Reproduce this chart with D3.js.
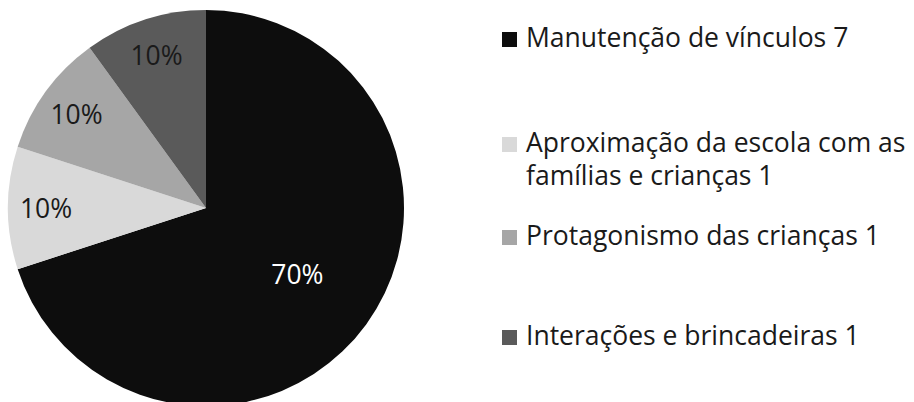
<!DOCTYPE html>
<html>
<head>
<meta charset="utf-8">
<script src="https://cdn.jsdelivr.net/npm/d3@7"></script>
<style>
  body { margin: 0; background: #fff; }
  svg text { font-family: "Open Sans", Lato, sans-serif; }
</style>
</head>
<body>
<div id="chart"></div>
<script>
// Data
const categories = [
    "Manutenção de vínculos",
    "Aproximação da escola com as famílias e crianças",
    "Protagonismo das crianças",
    "Interações e brincadeiras"
];
const values = [7, 1, 1, 1];
const legendLines = [
    ["Manutenção de vínculos 7"],
    ["Aproximação da escola com as", "famílias e crianças 1"],
    ["Protagonismo das crianças 1"],
    ["Interações e brincadeiras 1"]
];
const colors = ["#0d0d0d", "#d9d9d9", "#a6a6a6", "#5a5a5a"];

const width = 914, height = 402;
const cx = 206, cy = 208, radius = 198;

const svg = d3.select("#chart")
    .append("svg")
    .attr("width", width)
    .attr("height", height);

const data = categories.map((c, i) => ({ name: c, value: values[i], color: colors[i] }));
const total = d3.sum(values);

// Pie starts at 12 o'clock, clockwise, in data order
const pie = d3.pie().value(d => d.value).sort(null);
const arc = d3.arc().innerRadius(0).outerRadius(radius);

const g = svg.append("g").attr("transform", `translate(${cx},${cy})`);
const arcs = pie(data);

g.selectAll("path")
    .data(arcs)
    .enter()
    .append("path")
    .attr("d", arc)
    .attr("fill", d => d.data.color);

// Labels: small slices sit near the rim, the big one further in
const labelArcSmall = d3.arc().innerRadius(160).outerRadius(160);
const labelArcBig = d3.arc().innerRadius(113).outerRadius(113);

g.selectAll("text.pct")
    .data(arcs)
    .enter()
    .append("text")
    .attr("class", "pct")
    .attr("transform", d => {
        const a = (d.data.value / total > 0.5 ? labelArcBig : labelArcSmall);
        return `translate(${a.centroid(d)})`;
    })
    .attr("text-anchor", "middle")
    .attr("dy", "0.36em")
    .attr("font-size", 26.5)
    .attr("fill", d => d.data.value / total > 0.5 ? "#ffffff" : "#1a1a1a")
    .text(d => d3.format(".0%")(d.data.value / total));

// Legend
const legendBaselines = [47, 152, 245, 345];

const legend = svg.append("g");
const items = legend.selectAll("g")
    .data(data)
    .enter()
    .append("g")
    .attr("transform", (d, i) => `translate(0,${legendBaselines[i]})`);

items.append("rect")
    .attr("x", 502)
    .attr("y", -15)
    .attr("width", 15)
    .attr("height", 15)
    .attr("fill", d => d.color);

items.append("text")
    .attr("x", 526)
    .attr("font-size", 26.5)
    .attr("fill", "#1a1a1a")
    .each(function (d, i) {
        d3.select(this).selectAll("tspan")
            .data(legendLines[i])
            .enter()
            .append("tspan")
            .attr("x", 526)
            .attr("dy", (t, j) => j === 0 ? 0 : 33)
            .text(t => t);
    });
</script>
</body>
</html>
